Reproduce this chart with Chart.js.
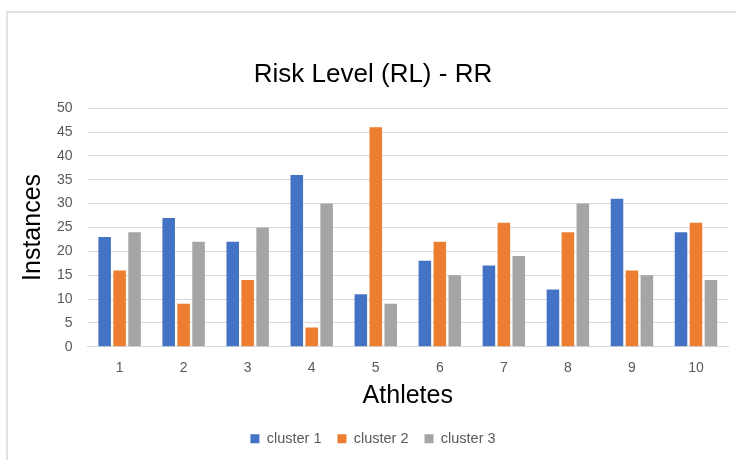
<!DOCTYPE html>
<html>
<head>
<meta charset="utf-8">
<script src="https://cdn.jsdelivr.net/npm/chart.js@4.4.0/dist/chart.umd.min.js"></script>
<style>
  html, body { margin: 0; padding: 0; background: #fff; }
  #wrap { position: relative; width: 736px; height: 460px; overflow: hidden; }
  #frame { position: absolute; left: 6px; top: 11px; width: 740px; height: 460px;
           border-left: 2px solid #e3e3e3; border-top: 2px solid #e3e3e3; }
  #riskChart { position: absolute; left: 0; top: 0; }
</style>
</head>
<body>
<div id="wrap">
  <div id="frame"></div>
  <canvas id="riskChart" width="736" height="460"></canvas>
</div>
<script>
const athletes = ['1', '2', '3', '4', '5', '6', '7', '8', '9', '10'];
const cluster1 = [23, 27, 22, 36, 11, 18, 17, 12, 31, 24];
const cluster2 = [16, 9, 14, 4, 46, 22, 26, 24, 16, 26];
const cluster3 = [24, 22, 25, 30, 9, 15, 19, 30, 15, 14];

document.addEventListener('DOMContentLoaded', function() {
    const ctx = document.getElementById('riskChart').getContext('2d');
    const barStyle = { borderWidth: 0, categoryPercentage: 0.7, barPercentage: 0.84 };

    new Chart(ctx, {
        type: 'bar',
        data: {
            labels: athletes,
            datasets: [
                Object.assign({ label: 'cluster 1', data: cluster1, backgroundColor: '#4472C4' }, barStyle),
                Object.assign({ label: 'cluster 2', data: cluster2, backgroundColor: '#ED7D31' }, barStyle),
                Object.assign({ label: 'cluster 3', data: cluster3, backgroundColor: '#A5A5A5' }, barStyle)
            ]
        },
        options: {
            responsive: false,
            animation: false,
            layout: {
                padding: { top: 59, left: 18, right: 8, bottom: 4 }
            },
            plugins: {
                title: {
                    display: true,
                    text: 'Risk Level (RL) - RR',
                    color: '#000000',
                    font: { family: 'Liberation Sans', size: 26, weight: 'normal' },
                    padding: { top: 0, bottom: 18 }
                },
                legend: {
                    position: 'bottom',
                    labels: {
                        boxWidth: 9,
                        boxHeight: 9,
                        padding: 16,
                        color: '#595959',
                        font: { family: 'Liberation Sans', size: 14.5 }
                    }
                },
                tooltip: { enabled: false }
            },
            scales: {
                x: {
                    grid: { display: false, drawTicks: false },
                    border: { display: true, color: '#d9d9d9', width: 1 },
                    ticks: {
                        color: '#595959',
                        padding: 13,
                        font: { family: 'Liberation Sans', size: 14 }
                    },
                    title: {
                        display: true,
                        text: 'Athletes',
                        color: '#000000',
                        font: { family: 'Liberation Sans', size: 25 },
                        padding: { top: -8, bottom: 4 }
                    }
                },
                y: {
                    min: 0,
                    max: 50,
                    grid: { color: '#d9d9d9', lineWidth: 1, drawTicks: false },
                    border: { display: false },
                    ticks: {
                        stepSize: 5,
                        color: '#595959',
                        padding: 15,
                        font: { family: 'Liberation Sans', size: 14 }
                    },
                    title: {
                        display: true,
                        text: 'Instances',
                        color: '#000000',
                        font: { family: 'Liberation Sans', size: 25 },
                        padding: { top: 0, bottom: -6 }
                    }
                }
            }
        }
    });
});
</script>
</body>
</html>
